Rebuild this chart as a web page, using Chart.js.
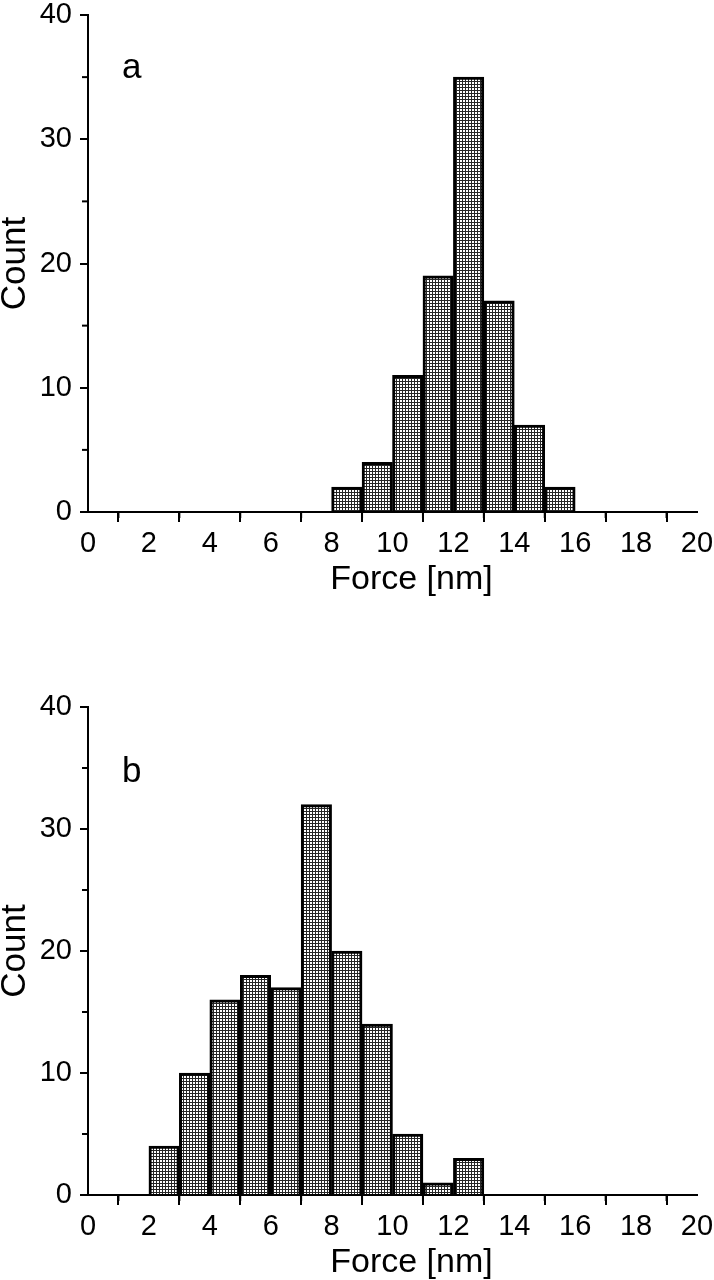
<!DOCTYPE html>
<html>
<head>
<meta charset="utf-8">
<script src="https://cdn.jsdelivr.net/npm/chart.js@4.4.1/dist/chart.umd.min.js"></script>
<style>
  html, body { margin: 0; padding: 0; background: #fff; }
  #wrap { position: relative; width: 714px; height: 1280px; }
  canvas { position: absolute; left: 0; }
</style>
</head>
<body>
<div id="wrap">
  <canvas id="chartA" width="714" height="640" style="top:0"></canvas>
  <canvas id="chartB" width="714" height="640" style="top:640px"></canvas>
</div>
<script>
// panel a
const binsA = [8.5, 9.5, 10.5, 11.5, 12.5, 13.5, 14.5, 15.5];
const countsA = [2, 4, 11, 19, 35, 17, 7, 2];
// panel b
const binsB = [2.5, 3.5, 4.5, 5.5, 6.5, 7.5, 8.5, 9.5, 10.5, 11.5, 12.5];
const countsB = [4, 10, 16, 18, 17, 32, 20, 14, 5, 1, 3];

const xMajor = [0, 2, 4, 6, 8, 10, 12, 14, 16, 18, 20];
const xMinor = [1, 3, 5, 7, 9, 11, 13, 15, 17, 19];
const yMajor = [0, 10, 20, 30, 40];
const yMinor = [5, 15, 25, 35];

const xTitle = 'Force [nm]';
const yTitle = 'Count';
const FONT = '"Liberation Sans", Arial, sans-serif';

function hatchPattern() {
  const c = document.createElement('canvas');
  c.width = 3; c.height = 3;
  const g = c.getContext('2d');
  g.fillStyle = '#fff';
  g.fillRect(0, 0, 3, 3);
  g.fillStyle = '#262626';
  g.fillRect(0, 0, 1, 3);
  g.fillRect(0, 0, 3, 1);
  return g.createPattern(c, 'repeat');
}

// minor ticks, x title, panel letter
const extras = {
  id: 'extras',
  afterDraw(chart, args, opts) {
    const { ctx, scales: { x, y } } = chart;
    ctx.save();
    ctx.strokeStyle = '#000';
    ctx.lineWidth = 2;
    xMinor.forEach(v => {
      const px = x.getPixelForValue(v);
      ctx.beginPath();
      ctx.moveTo(px, y.bottom);
      ctx.lineTo(px, y.bottom + 6);
      ctx.stroke();
    });
    yMinor.forEach(v => {
      const py = y.getPixelForValue(v);
      ctx.beginPath();
      ctx.moveTo(x.left, py);
      ctx.lineTo(x.left - 6, py);
      ctx.stroke();
    });
    ctx.fillStyle = '#000';
    ctx.font = '34px ' + FONT;
    ctx.textAlign = 'center';
    ctx.textBaseline = 'middle';
    ctx.fillText(xTitle, (x.left + x.right) / 2 + 19, y.bottom + 68);
    ctx.font = '35px ' + FONT;
    ctx.textAlign = 'left';
    ctx.textBaseline = 'alphabetic';
    ctx.fillText(opts.letter, x.left + opts.dx, y.top + opts.dy);
    ctx.restore();
  }
};

function makeChart(id, bins, counts, cfg) {
  const points = bins.map((b, i) => ({ x: b, y: counts[i] }));
  const ctx = document.getElementById(id).getContext('2d');
  return new Chart(ctx, {
    type: 'bar',
    data: {
      datasets: [{
        data: points,
        backgroundColor: hatchPattern(),
        borderColor: '#000',
        borderWidth: 3,
        barPercentage: 1,
        categoryPercentage: 1
      }]
    },
    plugins: [extras],
    options: {
      responsive: false,
      animation: false,
      layout: { padding: { top: cfg.top, right: 17, left: 0, bottom: 0 } },
      plugins: {
        legend: { display: false },
        tooltip: { enabled: false },
        extras: { letter: cfg.letter, dx: 34, dy: cfg.letterY }
      },
      scales: {
        x: {
          type: 'linear',
          min: 0,
          max: 20,
          offset: false,
          afterFit: s => { s.height = cfg.xHeight; s.paddingLeft = 0; s.paddingRight = 0; },
          afterBuildTicks: s => { s.ticks = xMajor.map(v => ({ value: v })); },
          grid: { display: true, drawOnChartArea: false, drawTicks: true, tickLength: 10, tickWidth: 2, lineWidth: 2, tickColor: '#000' },
          border: { display: true, color: '#000', width: 2 },
          ticks: {
            color: '#000',
            padding: 7,
            maxRotation: 0,
            autoSkip: false,
            font: { family: FONT, size: 29, lineHeight: 1 }
          },
          title: { display: false }
        },
        y: {
          min: 0,
          max: 40,
          afterFit: s => { s.width = 88; s.paddingTop = 0; s.paddingBottom = 0; },
          afterBuildTicks: s => { s.ticks = yMajor.map(v => ({ value: v })); },
          grid: { display: true, drawOnChartArea: false, drawTicks: true, tickLength: 8, tickWidth: 2, lineWidth: 2, tickColor: '#000' },
          border: { display: true, color: '#000', width: 2 },
          ticks: {
            color: '#000',
            padding: 8,
            font: { family: FONT, size: 29, lineHeight: 1 }
          },
          title: {
            display: true,
            text: yTitle,
            color: '#000',
            font: { family: FONT, size: 35, lineHeight: 1 },
            padding: { top: -2, bottom: 0 }
          }
        }
      }
    }
  });
}

window.addEventListener('load', () => {
  makeChart('chartA', binsA, countsA, { top: 15, xHeight: 128, letter: 'a', letterY: 63 });
  makeChart('chartB', binsB, countsB, { top: 67, xHeight: 85, letter: 'b', letterY: 75 });
});
</script>
</body>
</html>
